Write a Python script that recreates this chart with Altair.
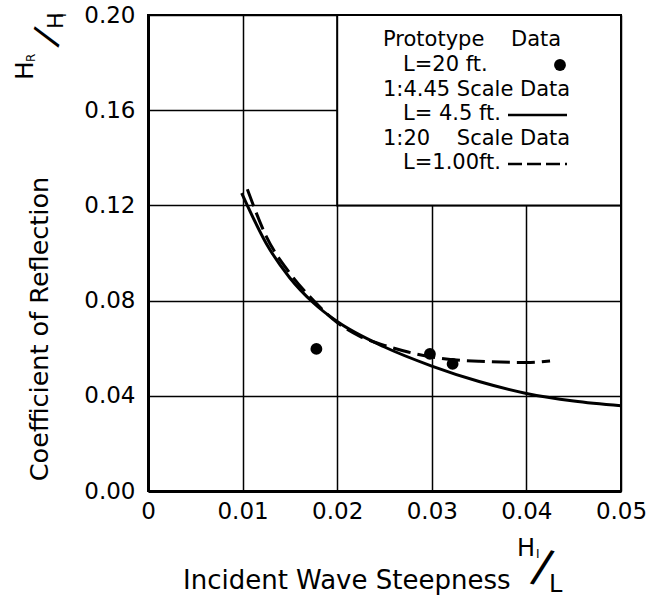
import altair as alt
import pandas as pd

# ---- data ----
solid_x = [0.0099, 0.0125, 0.0150, 0.0175, 0.0200, 0.0250, 0.0300, 0.0350, 0.0400, 0.0450, 0.0500]
solid_y = [0.1252, 0.1040, 0.0895, 0.0790, 0.0712, 0.0605, 0.0525, 0.0460, 0.0410, 0.0378, 0.0358]

dash_x = [0.0105, 0.0125, 0.0150, 0.0175, 0.0200, 0.0225, 0.0250, 0.0275, 0.0300, 0.0350, 0.0400, 0.0425]
dash_y = [0.1268, 0.1070, 0.0915, 0.0800, 0.0708, 0.0648, 0.0612, 0.0584, 0.0563, 0.0545, 0.0540, 0.0546]

proto_x = [0.0178, 0.0298, 0.0322]
proto_y = [0.0597, 0.0576, 0.0534]

x_ticks = [0, 0.01, 0.02, 0.03, 0.04, 0.05]
y_ticks = [0.0, 0.04, 0.08, 0.12, 0.16, 0.20]

legend_box_x = [0.02, 0.05]
legend_box_y = [0.12, 0.20]

legend_lines = [
    "Prototype\u00a0\u00a0\u00a0\u00a0Data",
    "L=20 ft.",
    "1:4.45 Scale Data",
    "L= 4.5 ft.",
    "1:20\u00a0\u00a0\u00a0\u00a0Scale Data",
    "L=1.00ft.",
]

FONT = "DejaVu Sans"
W, H = 473, 476

solid_df = pd.DataFrame({"x": solid_x, "y": solid_y})
dash_df = pd.DataFrame({"x": dash_x, "y": dash_y})
proto_df = pd.DataFrame({"x": proto_x, "y": proto_y})
box_df = pd.DataFrame({"x": [legend_box_x[0]], "x2": [legend_box_x[1]],
                       "y": [legend_box_y[0]], "y2": [legend_box_y[1]]})

xscale = alt.Scale(domain=[0, 0.05], nice=False, zero=False)
yscale = alt.Scale(domain=[0, 0.20], nice=False, zero=False)

xaxis = alt.Axis(values=x_ticks, title=None, grid=True, gridColor="black", gridWidth=1.5,
                 gridOpacity=1, ticks=False, domainColor="black", domainWidth=3,
                 labelFont=FONT, labelFontSize=23, labelColor="black", labelPadding=9,
                 labelExpr="datum.value == 0 ? '0' : format(datum.value, '.2f')",
                 labelFlush=False)
yaxis = alt.Axis(values=y_ticks, title=None, grid=True, gridColor="black", gridWidth=1.5,
                 gridOpacity=1, ticks=False, domainColor="black", domainWidth=3,
                 labelFont=FONT, labelFontSize=23, labelColor="black", labelPadding=13,
                 format=".2f", labelFlush=False)

base_axes = alt.Chart(solid_df).mark_line(opacity=0).encode(
    x=alt.X("x:Q", scale=xscale, axis=xaxis),
    y=alt.Y("y:Q", scale=yscale, axis=yaxis),
)

box = alt.Chart(box_df).mark_rect(fill="white", stroke="black", strokeWidth=2).encode(
    x=alt.X("x:Q", scale=xscale), x2="x2:Q",
    y=alt.Y("y:Q", scale=yscale), y2="y2:Q",
)

solid = alt.Chart(solid_df).mark_line(color="black", strokeWidth=3, interpolate="monotone").encode(
    x=alt.X("x:Q", scale=xscale), y=alt.Y("y:Q", scale=yscale))

dashed = alt.Chart(dash_df).mark_line(color="black", strokeWidth=3, interpolate="monotone",
                                      strokeDash=[18, 7]).encode(
    x=alt.X("x:Q", scale=xscale), y=alt.Y("y:Q", scale=yscale))

points = alt.Chart(proto_df).mark_point(filled=True, color="black", size=140, opacity=1).encode(
    x=alt.X("x:Q", scale=xscale), y=alt.Y("y:Q", scale=yscale))

one = pd.DataFrame({"k": [0]})


def label(txt, x, y, size, angle=0, align="left", baseline="alphabetic"):
    kw = dict(text=txt, font=FONT, fontSize=size, color="black", align=align, baseline=baseline)
    if angle:
        kw["angle"] = angle
    return alt.Chart(one).mark_text(**kw).encode(x=alt.value(x), y=alt.value(y))


layers = [base_axes, box, solid, dashed, points]

# legend text
leg_x = [235, 255, 235, 255, 235, 255]
leg_y = [25, 50, 75, 99, 124, 148]
for t, lx, ly in zip(legend_lines, leg_x, leg_y):
    layers.append(label(t, lx, ly, 21, baseline="middle"))

# legend symbols
layers.append(alt.Chart(one).mark_point(filled=True, color="black", size=140, opacity=1).encode(
    x=alt.value(412), y=alt.value(50)))
layers.append(alt.Chart(one).mark_rule(color="black", strokeWidth=2.5).encode(
    x=alt.value(360), x2=alt.value(419), y=alt.value(100)))
layers.append(alt.Chart(one).mark_rule(color="black", strokeWidth=2.5, strokeDash=[14, 5]).encode(
    x=alt.value(360), x2=alt.value(419), y=alt.value(149)))

# y title
layers.append(label("Coefficient of Reflection", -100, 314, 25.5, angle=270, align="center"))
layers.append(label("H", -115, 65, 25, angle=270))
layers.append(label("R", -113, 47, 12, angle=270))
layers.append(label("/", -101, 22, 36, angle=290, align="center", baseline="middle"))
layers.append(label("H", -85, 14, 22, angle=270))
layers.append(label("I", -82, 2, 13, angle=270))

# x title
layers.append(label("Incident Wave Steepness", 35, 574, 26))
layers.append(label("H", 369, 541, 24))
layers.append(label("I", 388, 543, 12))
layers.append(label("/", 394, 553, 46, angle=15, align="center", baseline="middle"))
layers.append(label("L", 401, 577, 24))

chart = alt.layer(*layers).properties(
    width=W, height=H,
    autosize=alt.AutoSizeParams(type="none"),
    padding={"left": 148, "top": 15, "right": 33, "bottom": 108},
    background="white",
).configure_view(stroke="black", strokeWidth=2)

chart.save("out.html", embed_options={"renderer": "svg", "actions": False})
